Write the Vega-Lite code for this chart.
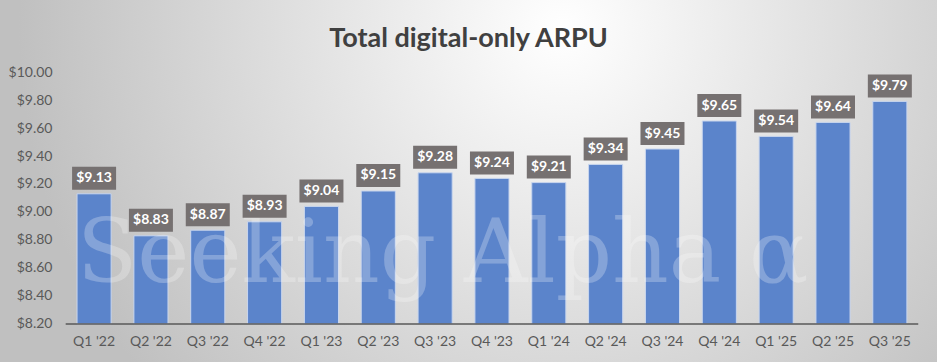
{
  "$schema": "https://vega.github.io/schema/vega-lite/v6.json",
  "width": 937,
  "height": 362,
  "autosize": "none",
  "padding": 0,
  "background": "#c8c8c8",
  "config": {"view": {"stroke": null}, "font": "Lato"},
  "title": {"text": "Total digital-only ARPU", "font": "Lato", "fontSize": 27, "fontWeight": "bold", "color": "#404040", "anchor": "middle", "frame": "group", "baseline": "alphabetic", "offset": -74},
  "data": {"values": [
    {"q": "Q1 '22", "v": 9.13},
    {"q": "Q2 '22", "v": 8.83},
    {"q": "Q3 '22", "v": 8.87},
    {"q": "Q4 '22", "v": 8.93},
    {"q": "Q1 '23", "v": 9.04},
    {"q": "Q2 '23", "v": 9.15},
    {"q": "Q3 '23", "v": 9.28},
    {"q": "Q4 '23", "v": 9.24},
    {"q": "Q1 '24", "v": 9.21},
    {"q": "Q2 '24", "v": 9.34},
    {"q": "Q3 '24", "v": 9.45},
    {"q": "Q4 '24", "v": 9.65},
    {"q": "Q1 '25", "v": 9.54},
    {"q": "Q2 '25", "v": 9.64},
    {"q": "Q3 '25", "v": 9.79}
  ]},
  "layer": [
    {
      "data": {"values": [{}]},
      "mark": {"type": "rect", "fill": {"gradient": "radial", "x1": 0.6, "y1": 0.032, "x2": 0.6, "y2": 0.032, "r1": 0, "r2": 0.58, "stops": [{"offset": 0, "color": "#ffffff"}, {"offset": 1, "color": "#c0c0c0"}]}},
      "encoding": {
        "y": {"datum": 10.514286, "type": "quantitative"},
        "y2": {"datum": 3.821429}
      }
    },
    {
      "mark": {"type": "bar", "color": "#5b84cb", "stroke": "#c9d6ee", "strokeWidth": 1},
      "encoding": {
        "x": {"field": "q", "type": "nominal", "sort": null, "title": null,
          "scale": {"domain": ["Q1 '22", "Q2 '22", "Q3 '22", "Q4 '22", "Q1 '23", "Q2 '23", "Q3 '23", "Q4 '23", "Q1 '24", "Q2 '24", "Q3 '24", "Q4 '24", "Q1 '25", "Q2 '25", "Q3 '25"], "paddingInner": 0.4, "paddingOuter": 0.9425, "align": 0.719},
          "axis": {"orient": "bottom", "offset": -38, "zindex": 1, "domain": false, "ticks": false, "grid": false, "labelPadding": 10, "labelAngle": 0, "labelFont": "Lato", "labelFontSize": 14, "labelColor": "#595959", "title": null}},
        "y": {"field": "v", "type": "quantitative", "title": null,
          "scale": {"domain": [7.928571, 10.514286], "nice": false, "zero": false},
          "axis": {"orient": "left", "offset": -66, "zindex": 1, "values": [8.2, 8.4, 8.6, 8.8, 9.0, 9.2, 9.4, 9.6, 9.8, 10.0], "format": "$.2f", "domain": false, "ticks": false, "grid": false, "labelPadding": 14, "labelFont": "Lato", "labelFontSize": 14, "labelColor": "#595959", "title": null}},
        "y2": {"datum": 8.2}
      }
    },
    {
      "data": {"values": [{"t": "Seeking Alpha α"}]},
      "mark": {"type": "text", "font": "DejaVu Serif", "fontSize": 88, "color": "white", "opacity": 0.25, "align": "left", "baseline": "alphabetic", "dx": -17},
      "encoding": {
        "x": {"datum": "Q1 '22"},
        "y": {"datum": 8.5},
        "text": {"field": "t"}
      }
    },
    {
      "data": {"values": [{}]},
      "mark": {"type": "rule", "color": "#595959", "strokeWidth": 1.5, "xOffset": -28.4, "x2Offset": 28.4},
      "encoding": {
        "x": {"datum": "Q1 '22"},
        "x2": {"datum": "Q3 '25"},
        "y": {"datum": 8.2}
      }
    },
    {
      "mark": {"type": "bar", "width": 44, "color": "#767171", "yOffset": -4, "y2Offset": -27},
      "encoding": {
        "x": {"field": "q", "type": "nominal", "sort": null, "title": null},
        "y": {"field": "v", "type": "quantitative", "title": null},
        "y2": {"field": "v"}
      }
    },
    {
      "mark": {"type": "text", "color": "white", "font": "Lato", "fontWeight": "bold", "fontSize": 14, "baseline": "middle", "dy": -15.5},
      "encoding": {
        "x": {"field": "q", "type": "nominal", "sort": null, "title": null},
        "y": {"field": "v", "type": "quantitative", "title": null},
        "text": {"field": "v", "type": "quantitative", "format": "$.2f"}
      }
    }
  ]
}
